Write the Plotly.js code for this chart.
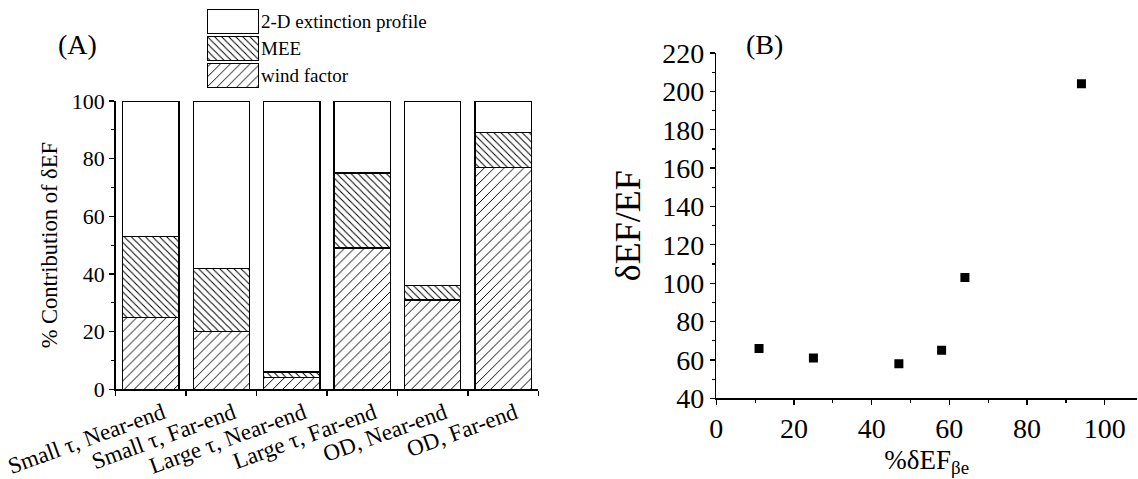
<!DOCTYPE html>
<html>
<head>
<meta charset="utf-8">
<script src="https://cdn.plot.ly/plotly-3.0.1.min.js"></script>
<style>html,body{margin:0;padding:0;background:#fff}#chart{width:1138px;height:479px}</style>
</head>
<body>
<div id="chart"></div>
<script>
// ---- Data ----
const categories = ['Small τ, Near-end', 'Small τ, Far-end', 'Large τ, Near-end', 'Large τ, Far-end', 'OD, Near-end', 'OD, Far-end'];
const windFactor = [25, 20, 4, 49, 31, 77];
const mee = [28, 22, 2, 26, 5, 12];
const extinction2D = [47, 58, 94, 25, 64, 11];
const seriesNames = ['2-D extinction profile', 'MEE', 'wind factor'];
const pctDEFbe = [11, 25, 47, 58, 64, 94];
const dEFoverEF = [66, 61, 58, 65, 103, 204];

// ---- Layout helpers ----
const W = 1138, H = 479;
const px = v => v / W;
const py = v => 1 - v / H;
const FONT = 'Liberation Serif, Times New Roman, serif';

const windPattern = {shape: '/', size: 7, solidity: 0.14, fgcolor: '#000', bgcolor: '#fff', fillmode: 'replace'};
const meePattern = {shape: '\\', size: 5, solidity: 0.2, fgcolor: '#000', bgcolor: '#fff', fillmode: 'replace'};
const barLine = {color: '#000', width: 1.3};

const traces = [
  {type: 'bar', name: seriesNames[2], x: categories, y: windFactor, width: 0.8,
   marker: {color: '#fff', pattern: windPattern, line: barLine}, xaxis: 'x', yaxis: 'y', showlegend: false, hoverinfo: 'skip'},
  {type: 'bar', name: seriesNames[1], x: categories, y: mee, width: 0.8,
   marker: {color: '#fff', pattern: meePattern, line: barLine}, xaxis: 'x', yaxis: 'y', showlegend: false, hoverinfo: 'skip'},
  {type: 'bar', name: seriesNames[0], x: categories, y: extinction2D, width: 0.8,
   marker: {color: '#fff', line: barLine}, xaxis: 'x', yaxis: 'y', showlegend: false, hoverinfo: 'skip'},
  // legend key drawn as patches on a small hidden axis
  {type: 'bar', orientation: 'h', y: seriesNames.slice().reverse(), x: seriesNames.map(() => 1), width: 0.9,
   marker: {color: '#fff', line: barLine,
     pattern: {shape: ['/', '\\', ''], size: [7, 5, 7], solidity: [0.14, 0.2, 0.1], fgcolor: '#000', bgcolor: '#fff', fillmode: 'replace'}},
   xaxis: 'x3', yaxis: 'y3', showlegend: false, hoverinfo: 'skip'},
  {type: 'scatter', mode: 'markers', x: pctDEFbe, y: dEFoverEF,
   marker: {symbol: 'square', size: 9, color: '#000'}, xaxis: 'x2', yaxis: 'y2', showlegend: false}
];

const axisCommon = {showline: true, linecolor: '#000', linewidth: 1.5, showgrid: false, zeroline: false,
  ticks: 'outside', ticklen: 5, tickwidth: 1.3, tickcolor: '#000'};
const minorTicks = {ticks: 'outside', ticklen: 3, tickcolor: '#000', tickwidth: 1.2};

const layout = {
  width: W, height: H,
  margin: {l: 0, r: 0, t: 0, b: 0},
  paper_bgcolor: '#fff', plot_bgcolor: 'rgba(0,0,0,0)',
  font: {family: FONT, color: '#000', size: 18},
  barmode: 'stack',
  showlegend: false,
  xaxis: Object.assign({}, axisCommon, {
    domain: [px(115.7), px(538.3)], anchor: 'y', type: 'category', range: [-0.5, 5.5],
    tickson: 'boundaries', tickangle: -20, ticklabelshift: 12,
    tickfont: {size: 23, family: FONT}
  }),
  yaxis: Object.assign({}, axisCommon, {
    domain: [py(389.3), py(101)], anchor: 'x', range: [0, 100], dtick: 20,
    minor: Object.assign({dtick: 10}, minorTicks),
    tickfont: {size: 22, family: FONT},
    title: {text: '% Contribution of δEF', font: {size: 22.5, family: FONT}, standoff: 8}
  }),
  xaxis2: Object.assign({}, axisCommon, {
    domain: [px(716.3), px(1137)], anchor: 'y2', range: [0, 108.3], dtick: 20,
    minor: Object.assign({dtick: 10}, minorTicks),
    tickfont: {size: 28, family: FONT},
    title: {text: '%δEF<sub>βe</sub>', font: {size: 27, family: FONT}, standoff: 6}
  }),
  yaxis2: Object.assign({}, axisCommon, {
    domain: [py(398.3), py(53)], anchor: 'x2', range: [40, 220], dtick: 20,
    minor: Object.assign({dtick: 10}, minorTicks),
    tickfont: {size: 28, family: FONT},
    title: {text: 'δEF/EF', font: {size: 36, family: FONT}, standoff: 10}
  }),
  xaxis3: {domain: [px(207), px(259)], anchor: 'y3', range: [0, 1], visible: false, fixedrange: true},
  yaxis3: {domain: [py(89), py(8)], anchor: 'x3', side: 'right', type: 'category', range: [-0.5, 2.5],
    showline: false, showgrid: false, zeroline: false, ticks: '', ticklabelstandoff: 1,
    tickfont: {size: 19, family: FONT}, fixedrange: true},
  annotations: [
    {text: '(A)', xref: 'paper', yref: 'paper', x: px(77), y: py(44), showarrow: false,
     xanchor: 'center', yanchor: 'middle', font: {size: 28, family: FONT}},
    {text: '(B)', xref: 'paper', yref: 'paper', x: px(764), y: py(44), showarrow: false,
     xanchor: 'center', yanchor: 'middle', font: {size: 28, family: FONT}}
  ]
};

Plotly.newPlot('chart', traces, layout, {staticPlot: true, displayModeBar: false});
</script>
</body>
</html>
